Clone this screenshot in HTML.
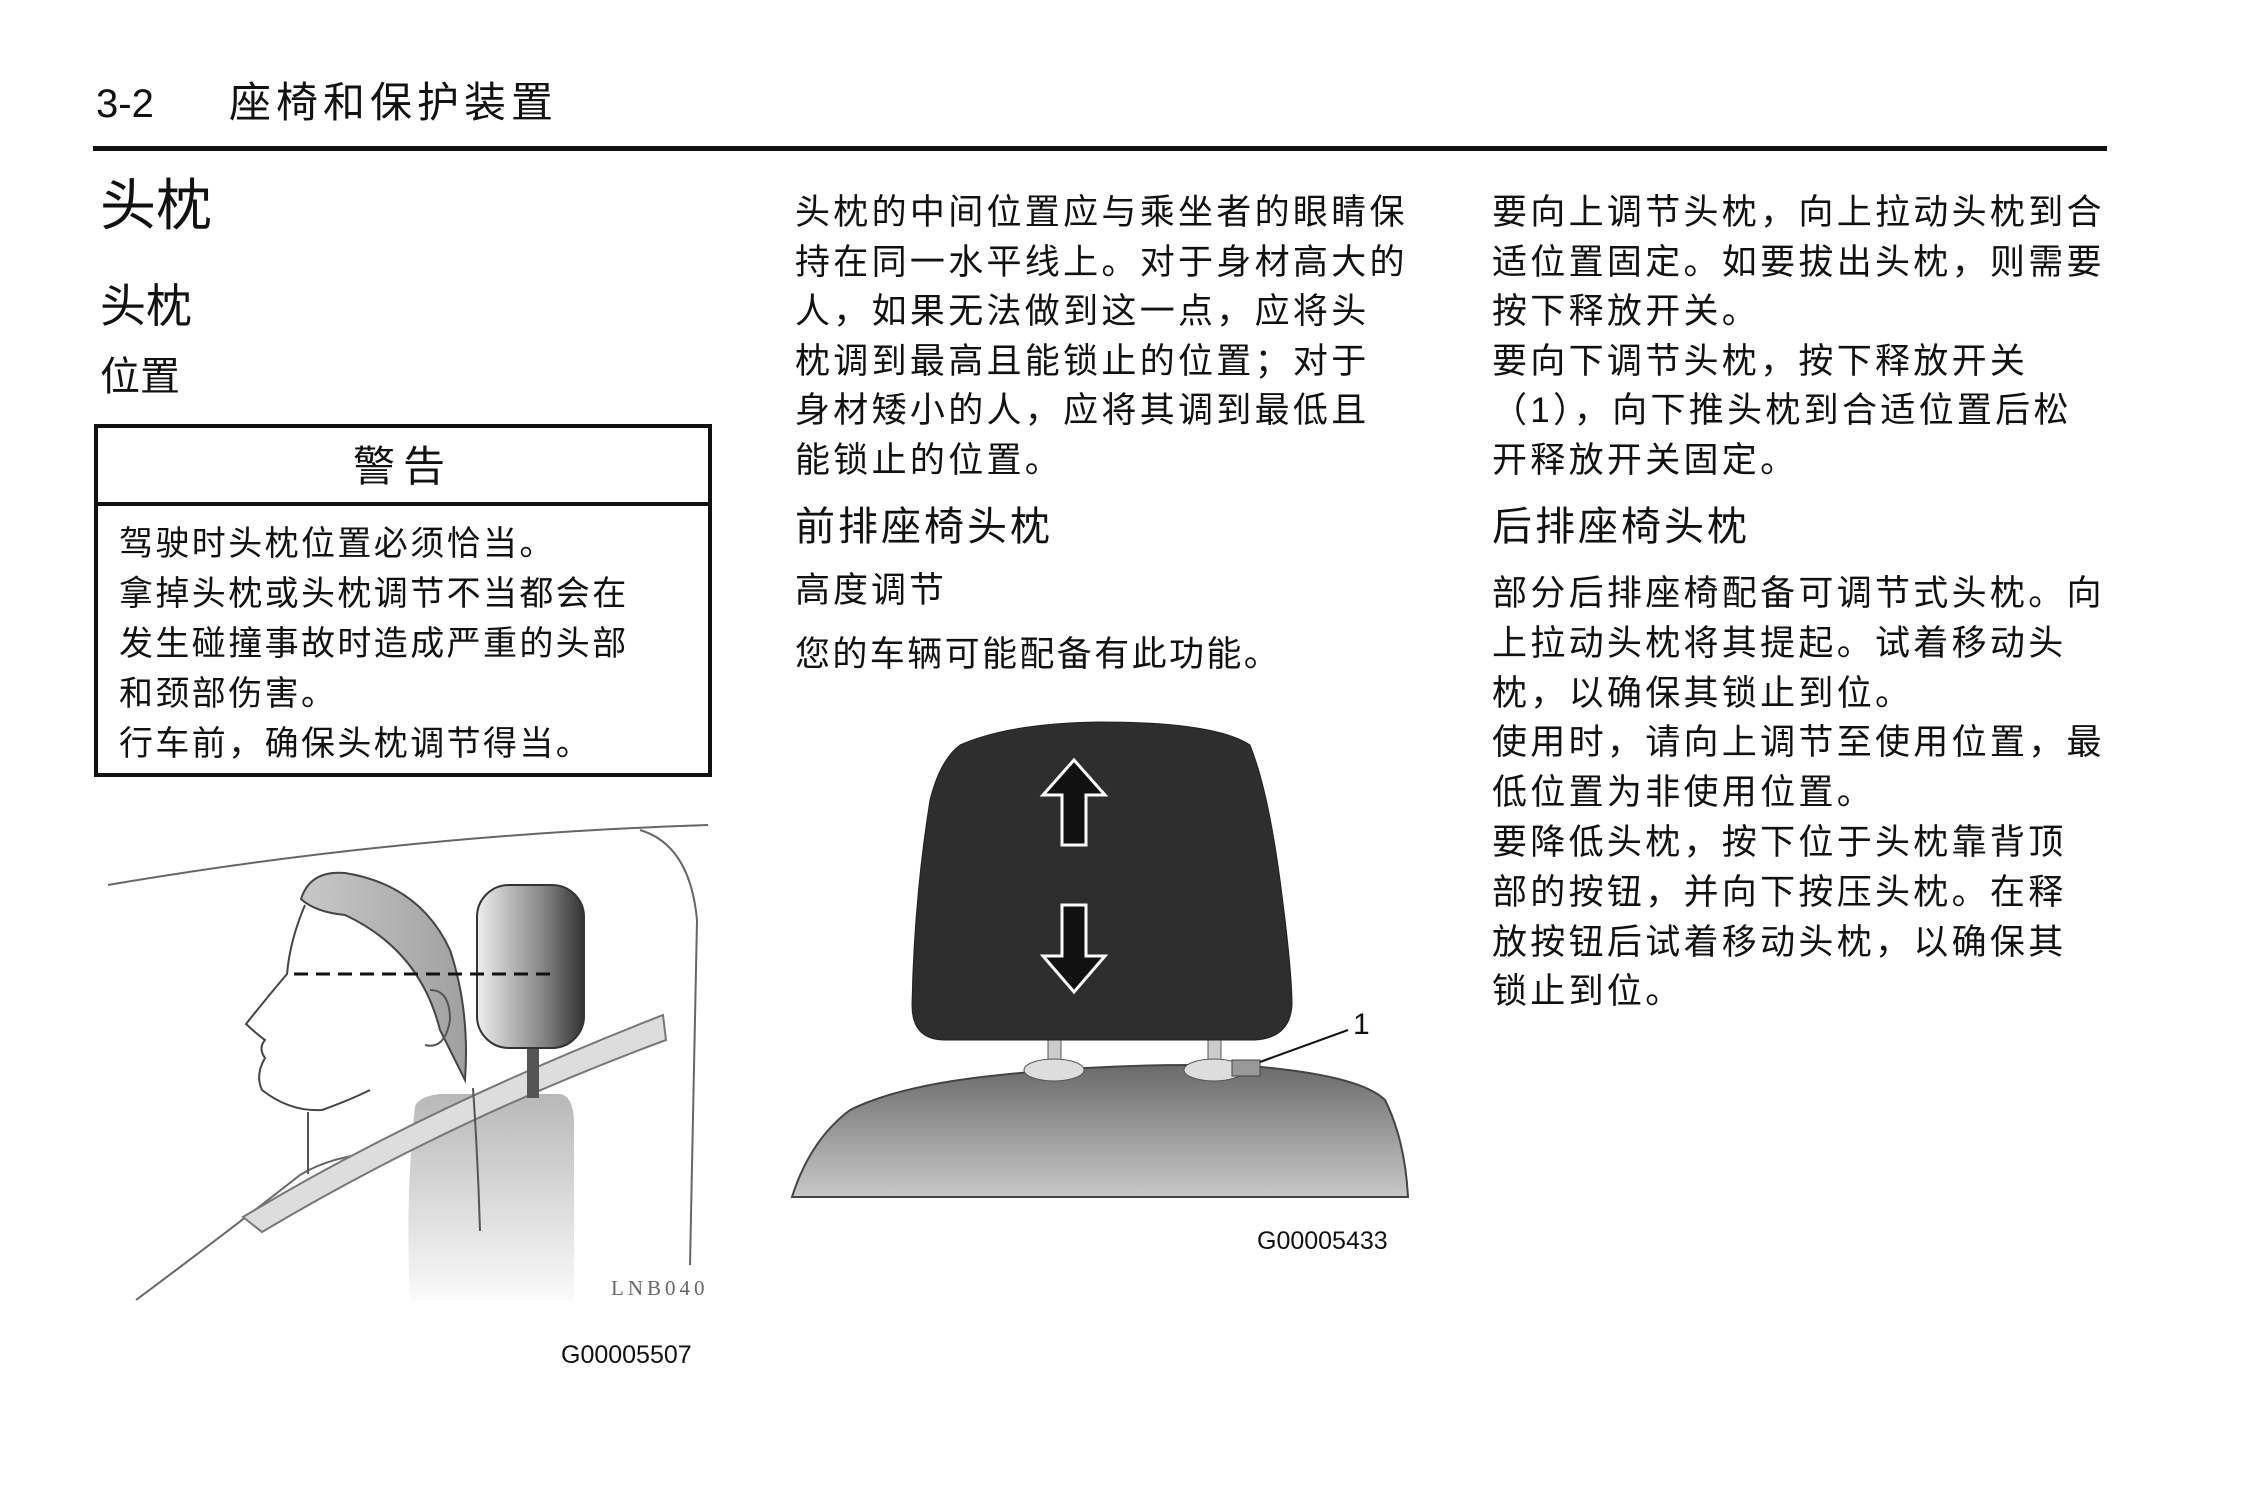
<!DOCTYPE html>
<html><head><meta charset="utf-8"><style>
html,body{margin:0;padding:0;background:#fff}
body{width:2245px;height:1500px;position:relative;overflow:hidden;font-family:"Liberation Sans","Noto Sans CJK SC",sans-serif;color:#111}
.t{position:absolute;white-space:nowrap;line-height:1}
.p{position:absolute;font-size:35px;line-height:49.6px;white-space:nowrap;letter-spacing:3.3px}
</style></head><body>
<div class="t" style="left:96px;top:84px;font-size:40px">3-2</div>
<div class="t" style="left:229px;top:82px;font-size:42px;letter-spacing:5px">座椅和保护装置</div>
<div style="position:absolute;left:93px;top:146px;width:2014px;height:5px;background:#111"></div>

<div class="t" style="left:100px;top:178px;font-size:56px">头枕</div>
<div class="t" style="left:100px;top:283px;font-size:46px">头枕</div>
<div class="t" style="left:100px;top:357px;font-size:40px">位置</div>

<div style="position:absolute;left:94px;top:424px;width:618px;height:353px;border:4px solid #111;box-sizing:border-box"></div>
<div style="position:absolute;left:94px;top:502px;width:618px;height:4px;background:#111"></div>
<div class="t" style="left:94px;width:618px;text-align:center;top:446px;font-size:42px;letter-spacing:8px">警告</div>
<div class="p" style="left:119px;top:519px;line-height:50px;font-size:34px;letter-spacing:2.4px">驾驶时头枕位置必须恰当。<br>拿掉头枕或头枕调节不当都会在<br>发生碰撞事故时造成严重的头部<br>和颈部伤害。<br>行车前，确保头枕调节得当。</div>

<svg style="position:absolute;left:0;top:0" width="2245" height="1500">
<defs>
<linearGradient id="hr" x1="0" x2="1"><stop offset="0" stop-color="#eee"/><stop offset="0.6" stop-color="#888"/><stop offset="1" stop-color="#333"/></linearGradient>
<linearGradient id="sb" x1="0" y1="0" x2="0" y2="1"><stop offset="0" stop-color="#b8b8b8"/><stop offset="1" stop-color="#fafafa"/></linearGradient>
<linearGradient id="hair" x1="0" x2="1"><stop offset="0" stop-color="#c8c8c8"/><stop offset="1" stop-color="#a0a0a0"/></linearGradient>
<linearGradient id="seat" x1="0" y1="0" x2="0" y2="1"><stop offset="0" stop-color="#6a6a6a"/><stop offset="1" stop-color="#c8c8c8"/></linearGradient>
</defs>
<g fill="none" stroke="#666" stroke-width="2">
<path d="M108 885 Q400 835 708 825"/>
<path d="M640 830 Q690 845 697 920 L690 1265"/>
<path d="M136 1300 Q230 1230 300 1175"/>
<path d="M300 1175 Q340 1150 420 1150"/>
</g>
<path d="M415 1106 Q420 1096 440 1094 L560 1094 Q575 1096 574 1130 L574 1300 L410 1300 Q405 1200 415 1106Z" fill="url(#sb)"/>
<path d="M243 1217 Q420 1110 663 1015 L666 1040 Q450 1120 262 1232 Z" fill="#ddd" stroke="#777" stroke-width="2"/>
<rect x="527" y="1046" width="12" height="52" fill="#555"/>
<rect x="477" y="885" width="107" height="163" rx="32" fill="url(#hr)" stroke="#333" stroke-width="2"/>
<path d="M301 899 Q310 870 345 873 Q420 885 450 950 Q470 1010 465 1080 Q450 1050 440 1030 Q420 950 345 915 Q315 912 301 899Z" fill="url(#hair)" stroke="#444" stroke-width="2"/>
<path d="M305 905 Q290 940 287 974 Q265 1000 246 1024 Q258 1035 265 1040 Q258 1048 265 1058 Q255 1075 262 1090 Q290 1112 322 1110 Q350 1100 370 1090" fill="none" stroke="#444" stroke-width="2"/>
<path d="M308 1112 L308 1174 M473 1088 Q478 1160 480 1231" fill="none" stroke="#555" stroke-width="2"/>
<path d="M430 990 Q450 990 450 1020 Q445 1050 425 1045" fill="none" stroke="#555" stroke-width="2"/>
<path d="M294 974 L556 974" stroke="#111" stroke-width="3" stroke-dasharray="14,8"/>
<path d="M792 1197 Q810 1140 850 1110 Q900 1085 1000 1075 Q1120 1062 1250 1066 Q1360 1075 1385 1100 Q1405 1140 1408 1197 Z" fill="url(#seat)" stroke="#444" stroke-width="2"/>
<rect x="1048" y="1030" width="13" height="40" fill="#ccc" stroke="#555"/>
<rect x="1208" y="1030" width="13" height="40" fill="#ccc" stroke="#555"/>
<ellipse cx="1054" cy="1070" rx="30" ry="11" fill="#ddd" stroke="#555"/>
<ellipse cx="1214" cy="1070" rx="30" ry="11" fill="#ddd" stroke="#555"/>
<rect x="1232" y="1060" width="28" height="16" fill="#999" stroke="#444"/>
<path d="M960 745 Q1010 723 1100 722 Q1215 722 1250 745 Q1268 790 1280 880 Q1292 970 1292 1005 Q1290 1038 1255 1040 L945 1040 Q912 1040 912 1005 Q914 900 930 800 Q940 760 960 745Z" fill="#2e2e2e" stroke="#222"/>
<path d="M1074 760 L1043 795 L1062 795 L1062 845 L1086 845 L1086 795 L1105 795 Z" fill="#111" stroke="#fff" stroke-width="3"/>
<path d="M1062 905 L1062 956 L1043 956 L1074 992 L1105 956 L1086 956 L1086 905 Z" fill="#111" stroke="#fff" stroke-width="3"/>
<path d="M1260 1062 L1348 1030" stroke="#111" stroke-width="2"/>
</svg>
<div class="t" style="left:1353px;top:1010px;font-size:30px">1</div>
<div class="t" style="left:1257px;top:1229px;font-size:25px">G00005433</div>
<div class="t" style="left:611px;top:1278px;font-size:21px;font-family:'Liberation Serif',serif;color:#666;letter-spacing:4px">LNB040</div>
<div class="t" style="left:561px;top:1343px;font-size:25px">G00005507</div>

<div class="p" style="left:795px;top:188px">头枕的中间位置应与乘坐者的眼睛保<br>持在同一水平线上。对于身材高大的<br>人，如果无法做到这一点，应将头<br>枕调到最高且能锁止的位置；对于<br>身材矮小的人，应将其调到最低且<br>能锁止的位置。</div>
<div class="t" style="left:795px;top:507px;font-size:40px;letter-spacing:3px">前排座椅头枕</div>
<div class="t" style="left:795px;top:573px;font-size:35px;letter-spacing:3px">高度调节</div>
<div class="t" style="left:795px;top:637px;font-size:35px;letter-spacing:2.4px">您的车辆可能配备有此功能。</div>

<div class="p" style="left:1492px;top:188px">要向上调节头枕，向上拉动头枕到合<br>适位置固定。如要拔出头枕，则需要<br>按下释放开关。<br>要向下调节头枕，按下释放开关<br>（1），向下推头枕到合适位置后松<br>开释放开关固定。</div>
<div class="t" style="left:1492px;top:507px;font-size:40px;letter-spacing:3px">后排座椅头枕</div>
<div class="p" style="left:1492px;top:569px;line-height:49.8px">部分后排座椅配备可调节式头枕。向<br>上拉动头枕将其提起。试着移动头<br>枕，以确保其锁止到位。<br>使用时，请向上调节至使用位置，最<br>低位置为非使用位置。<br>要降低头枕，按下位于头枕靠背顶<br>部的按钮，并向下按压头枕。在释<br>放按钮后试着移动头枕，以确保其<br>锁止到位。</div>
</body></html>
